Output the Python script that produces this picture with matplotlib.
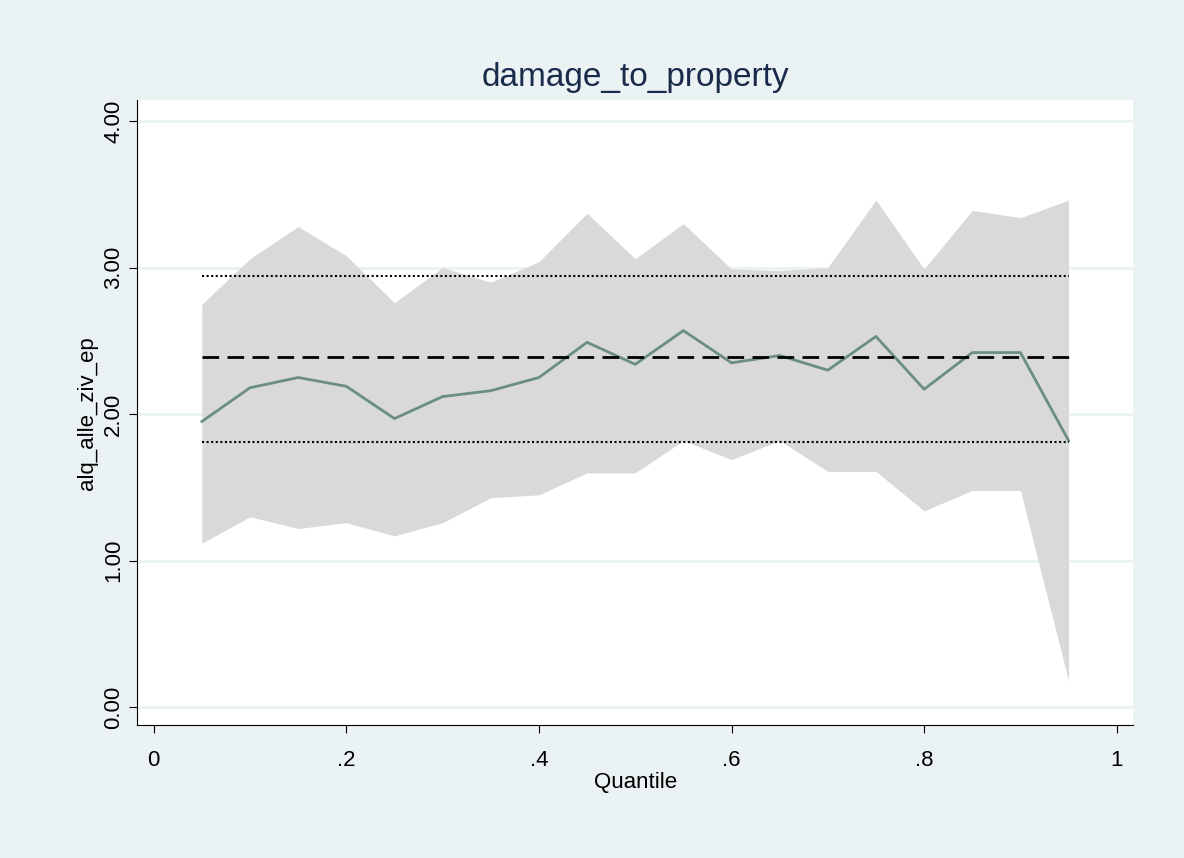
import matplotlib.pyplot as plt
import numpy as np

plt.rcParams['font.family'] = ['Liberation Sans', 'DejaVu Sans']

quantiles = [.05, .10, .15, .20, .25, .30, .35, .40, .45, .50,
             .55, .60, .65, .70, .75, .80, .85, .90, .95]
coef = [1.95, 2.18, 2.25, 2.19, 1.97, 2.12, 2.16, 2.25, 2.49, 2.34,
        2.57, 2.35, 2.40, 2.30, 2.53, 2.17, 2.42, 2.42, 1.82]
upper = [2.75, 3.06, 3.28, 3.08, 2.76, 3.00, 2.90, 3.04, 3.37, 3.06,
         3.30, 2.99, 2.98, 3.00, 3.46, 2.99, 3.39, 3.34, 3.46]
lower = [1.12, 1.30, 1.22, 1.26, 1.17, 1.26, 1.43, 1.45, 1.60, 1.60,
         1.82, 1.69, 1.82, 1.61, 1.61, 1.34, 1.48, 1.48, 0.18]
ols = 2.39
ols_lo, ols_hi = 1.81, 2.94

bg = '#eaf2f3'
fig = plt.figure(figsize=(11.84, 8.58), dpi=100, facecolor=bg)
ax = fig.add_axes([0.116, 0.155, 0.841, 0.728])
ax.set_facecolor('white')

for y in [0, 1, 2, 3, 4]:
    ax.axhline(y, color=bg, lw=2, zorder=0)

ax.fill_between(quantiles, lower, upper, color='#d9d9d9', lw=0, zorder=1)
ax.plot(quantiles, coef, color='#6b8e84', lw=2, zorder=3)
ax.plot([.05, .95], [ols, ols], color='black', lw=2, ls=(0, (6, 3)), zorder=4)
for v in [ols_lo, ols_hi]:
    ax.plot([.05, .95], [v, v], color='black', lw=1.5, ls=(0, (1, 1.2)), zorder=4)

ax.set_xlim(-0.017, 1.017)
ax.set_ylim(-0.12, 4.14)
ax.set_xticks([0, .2, .4, .6, .8, 1])
ax.set_xticklabels(['0', '.2', '.4', '.6', '.8', '1'], fontsize=16)
ax.set_yticks([0, 1, 2, 3, 4])
ax.set_yticklabels(['0.00', '1.00', '2.00', '3.00', '4.00'], fontsize=16,
                   rotation=90, va='center')
for s in ['top', 'right']:
    ax.spines[s].set_visible(False)
ax.tick_params(length=6)
ax.tick_params(axis='x', pad=12)
ax.set_xlabel('Quantile', fontsize=16, labelpad=1)
ax.set_ylabel('alq_alle_ziv_ep', fontsize=16)
ax.set_title('damage_to_property', fontsize=24, color='#1a2a4a', pad=10)

fig.savefig('out.png', dpi=100, facecolor=bg)
